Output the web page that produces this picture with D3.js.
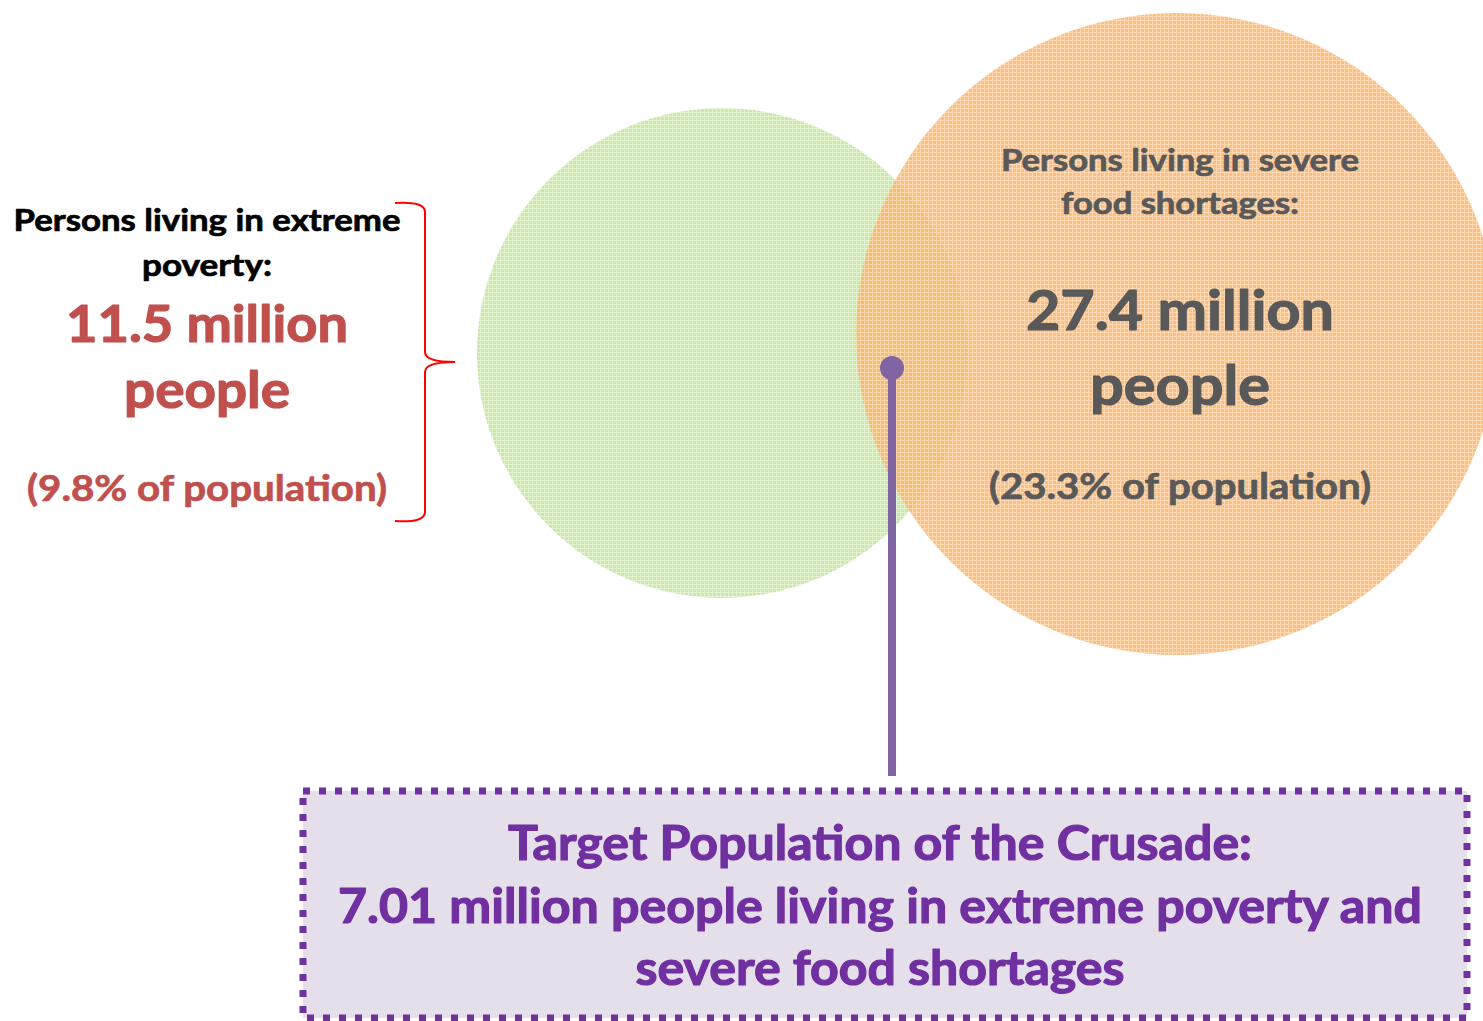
<!DOCTYPE html>
<html><head><meta charset="utf-8">
<script src="https://cdn.jsdelivr.net/npm/d3@7"></script>
<style>html,body{margin:0;padding:0;background:#fff;overflow:hidden}svg{display:block}</style>
</head><body>
<svg id="c" width="1483" height="1021"></svg>
<script>
// ---- data ----
const setNames = ["Persons living in extreme poverty:", "Persons living in severe food shortages:"];
const setValues = [11.5, 27.4];           // million people
const setPercents = [9.8, 23.3];          // % of population
const overlapValue = 7.01;                // million people in both
const boxLines = ["Target Population of the Crusade:",
                  "7.01 million people living in extreme poverty and",
                  "severe food shortages"];

const svg = d3.select("#c");
const font = "Lato, 'Open Sans', sans-serif";

// patterns to mimic dotted texture
const defs = svg.append("defs");
function pat(id, base, dot){
  const p = defs.append("pattern").attr("id", id).attr("width", 4).attr("height", 4).attr("patternUnits", "userSpaceOnUse");
  p.append("rect").attr("width", 4).attr("height", 4).attr("fill", base);
  p.append("rect").attr("x", 0).attr("y", 0).attr("width", 1).attr("height", 4).attr("fill", dot);
  p.append("rect").attr("x", 0).attr("y", 0).attr("width", 4).attr("height", 1).attr("fill", dot);
}
pat("pg", "#cbe8ab", "#e3f3d2");
pat("po", "#f9b46c", "#fdd1a2");

const rScale = d3.scaleLinear().domain([setValues[0], setValues[1]]).range([245, 321]);
const circles = [
  {cx: 722, cy: 353, r: rScale(setValues[0]), fill: "url(#pg)", op: 1},
  {cx: 1177, cy: 334, r: rScale(setValues[1]), fill: "url(#po)", op: 0.85}
];
svg.selectAll("circle.set").data(circles).join("circle").attr("class", "set")
  .attr("cx", d => d.cx).attr("cy", d => d.cy).attr("r", d => d.r)
  .attr("fill", d => d.fill).attr("fill-opacity", d => d.op);

function txt(s, x, y, size, color, len){
  const t = svg.append("text").attr("x", x).attr("y", y).attr("text-anchor", "middle")
    .attr("font-family", font).attr("font-weight", 700).attr("font-size", size)
    .attr("fill", color).attr("stroke", color).attr("stroke-width", size > 40 ? 1.2 : 0.7)
    .attr("stroke-linejoin", "round").text(s);
  if (len) t.attr("textLength", len).attr("lengthAdjust", "spacingAndGlyphs");
  return t;
}

// left labels
const leftName = setNames[0].replace("extreme ", "extreme|").split("|");
txt(leftName[0].trim(), 207, 231, 31, "#000", 387);
txt(leftName[1], 207, 276, 31, "#000", 130);
txt(setValues[0].toFixed(1) + " million", 207, 342, 51, "#c0504d", 282);
txt("people", 207, 408, 51, "#c0504d", 166);
txt("(" + setPercents[0] + "% of population)", 207, 501, 37, "#c0504d", 360);

// brace
svg.append("path")
  .attr("d", "M395,203 Q425,201 425,212 L425,352 Q425,362 455,362 Q425,362 425,372 L425,512 Q425,523 395,521")
  .attr("fill", "none").attr("stroke", "#ff0000").attr("stroke-width", 2);

// right labels
const rightName = setNames[1].replace("severe ", "severe|").split("|");
txt(rightName[0].trim(), 1180, 171, 31, "#595959", 358);
txt(rightName[1], 1180, 214, 31, "#595959", 238);
txt(setValues[1].toFixed(1) + " million", 1180, 330, 55, "#595959", 308);
txt("people", 1180, 405, 55, "#595959", 180);
txt("(" + setPercents[1] + "% of population)", 1180, 499, 37, "#595959", 382);

// connector
svg.append("line").attr("x1", 892).attr("y1", 368).attr("x2", 892).attr("y2", 776)
  .attr("stroke", "#8064a2").attr("stroke-width", 8);
svg.append("circle").attr("cx", 892).attr("cy", 368).attr("r", 12).attr("fill", "#8064a2");

// box
svg.append("rect").attr("x", 303).attr("y", 791).attr("width", 1164).attr("height", 227)
  .attr("fill", "#e5dfec").attr("stroke", "#7030a0").attr("stroke-width", 7)
  .attr("stroke-dasharray", "7,9");
const boxY = [860, 923, 985];
const boxLen = [744, 1084, 489];
boxLines.forEach((s, i) => txt(s, 880, boxY[i], 47, "#7030a0", boxLen[i]));
</script>
</body></html>
